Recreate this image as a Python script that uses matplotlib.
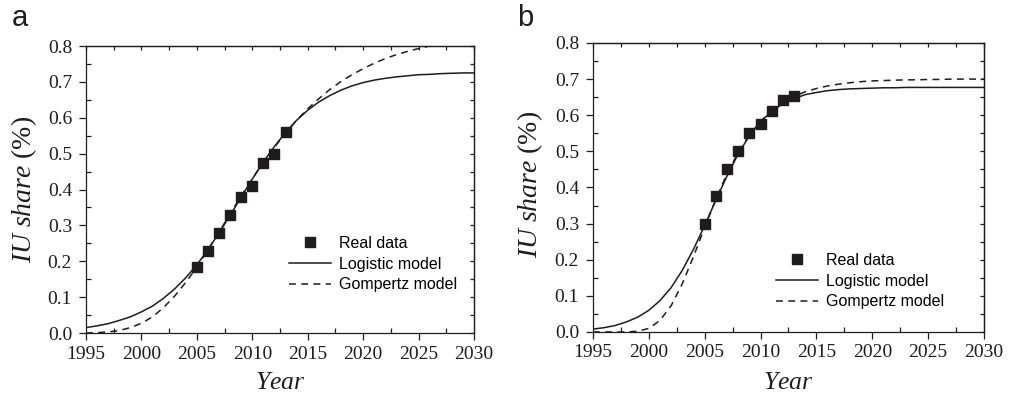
import numpy as np
import matplotlib
matplotlib.use("Agg")
import matplotlib.pyplot as plt
from matplotlib.ticker import MultipleLocator, FormatStrFormatter

plt.rcParams["font.family"] = "Liberation Serif"
plt.rcParams["mathtext.fontset"] = "custom"
plt.rcParams["mathtext.rm"] = "Liberation Serif"
plt.rcParams["mathtext.it"] = "Liberation Serif:italic"

# real data years
data_years = [2005, 2006, 2007, 2008, 2009, 2010, 2011, 2012, 2013]
real_a = [0.184, 0.228, 0.279, 0.330, 0.380, 0.409, 0.473, 0.500, 0.560]
real_b = [0.299, 0.377, 0.450, 0.500, 0.552, 0.576, 0.612, 0.642, 0.652]

# model curves, one value per year 1995..2030
model_years = list(range(1995, 2031))
logistic_a = [0.015, 0.020, 0.026, 0.035, 0.045, 0.059, 0.075, 0.097, 0.123, 0.154,
              0.190, 0.232, 0.279, 0.328, 0.379, 0.429, 0.477, 0.520, 0.559, 0.593,
              0.621, 0.644, 0.662, 0.677, 0.689, 0.698, 0.705, 0.710, 0.714, 0.717,
              0.720, 0.721, 0.723, 0.724, 0.725, 0.725]
gompertz_a = [0.000, 0.001, 0.003, 0.007, 0.015, 0.027, 0.045, 0.071, 0.103, 0.141,
              0.184, 0.232, 0.281, 0.332, 0.382, 0.430, 0.476, 0.518, 0.557, 0.593,
              0.625, 0.653, 0.679, 0.701, 0.720, 0.737, 0.752, 0.765, 0.776, 0.785,
              0.793, 0.800, 0.806, 0.811, 0.815, 0.819]
logistic_b = [0.008, 0.012, 0.018, 0.028, 0.041, 0.060, 0.087, 0.123, 0.171, 0.229,
              0.295, 0.365, 0.432, 0.493, 0.543, 0.582, 0.611, 0.632, 0.646, 0.657,
              0.663, 0.668, 0.671, 0.673, 0.674, 0.675, 0.676, 0.676, 0.677, 0.677,
              0.677, 0.677, 0.677, 0.677, 0.677, 0.677]
gompertz_b = [0.000, 0.000, 0.000, 0.000, 0.002, 0.010, 0.032, 0.073, 0.134, 0.209,
              0.290, 0.368, 0.438, 0.497, 0.545, 0.583, 0.613, 0.635, 0.652, 0.665,
              0.674, 0.681, 0.686, 0.690, 0.693, 0.695, 0.696, 0.697, 0.698, 0.698,
              0.699, 0.699, 0.700, 0.700, 0.700, 0.700]

ink = "#1e1c1d"

fig = plt.figure(figsize=(10.09, 3.94), dpi=100)
ax_a = fig.add_axes([0.0852, 0.1548, 0.3846, 0.7284])
ax_b = fig.add_axes([0.5877, 0.1574, 0.3875, 0.7335])

panels = [
    (ax_a, real_a, logistic_a, gompertz_a, (0.74, 0.24), (-0.16, 0.50), (0.5, -0.174)),
    (ax_b, real_b, logistic_b, gompertz_b, (0.683, 0.176), (-0.16, 0.51), (0.5, -0.176)),
]


def set_locators(axis, major, minor):
    axis.set_major_locator(MultipleLocator(major))
    axis.set_minor_locator(MultipleLocator(minor))


for ax, real, logi, gomp, leg_pos, ylab_pos, xlab_pos in panels:
    ax.plot(data_years, real, "s", color=ink, markersize=6.5, label="Real data", zorder=3)
    ax.plot(model_years, logi, "-", color=ink, lw=1.1, label="Logistic model")
    ax.plot(model_years, gomp, "--", color=ink, lw=1.1, dashes=(4.5, 3.5), label="Gompertz model")

    ax.set_xlim(1995, 2030)
    ax.set_ylim(0, 0.8)
    set_locators(ax.xaxis, 5, 2.5)
    set_locators(ax.yaxis, 0.1, 0.05)
    ax.yaxis.set_major_formatter(FormatStrFormatter("%.1f"))
    ax.tick_params(which="both", labelsize=14, colors=ink, width=0.9)
    ax.tick_params(which="major", direction="out", length=5, pad=4)
    ax.tick_params(which="minor", direction="in", length=3.5)
    ax.tick_params(axis="y", which="major", pad=5)
    for s in ax.spines.values():
        s.set_linewidth(0.9)
        s.set_color(ink)

    # short inward ticks on top and right
    top = ax.secondary_xaxis("top")
    set_locators(top.xaxis, 5, 2.5)
    top.tick_params(which="both", direction="in", length=3, width=0.9, colors=ink, labeltop=False)
    right = ax.secondary_yaxis("right")
    set_locators(right.yaxis, 0.1, 0.05)
    right.tick_params(which="both", direction="in", length=3, width=0.9, colors=ink, labelright=False)
    for sec in (top, right):
        for s in sec.spines.values():
            s.set_linewidth(0.9)
            s.set_color(ink)

    ax.set_xlabel(r"$\mathit{Year}$", fontsize=18.5, color=ink, va="center")
    ax.xaxis.set_label_coords(*xlab_pos)
    ax.set_ylabel(r"$\mathit{IU\ share}$ (%)", fontsize=20, color=ink, va="center")
    ax.yaxis.set_label_coords(*ylab_pos)

    ax.legend(loc="center", bbox_to_anchor=leg_pos, frameon=False,
              prop={"family": "Liberation Sans", "size": 11.5},
              handlelength=2.6, handletextpad=0.5, labelspacing=0.35, borderpad=0)

fig.text(0.012, 0.955, "a", family="Liberation Sans", fontsize=21, color=ink, va="center")
fig.text(0.512, 0.955, "b", family="Liberation Sans", fontsize=21, color=ink, va="center")

fig.savefig("out.png", dpi=100, facecolor="white")
